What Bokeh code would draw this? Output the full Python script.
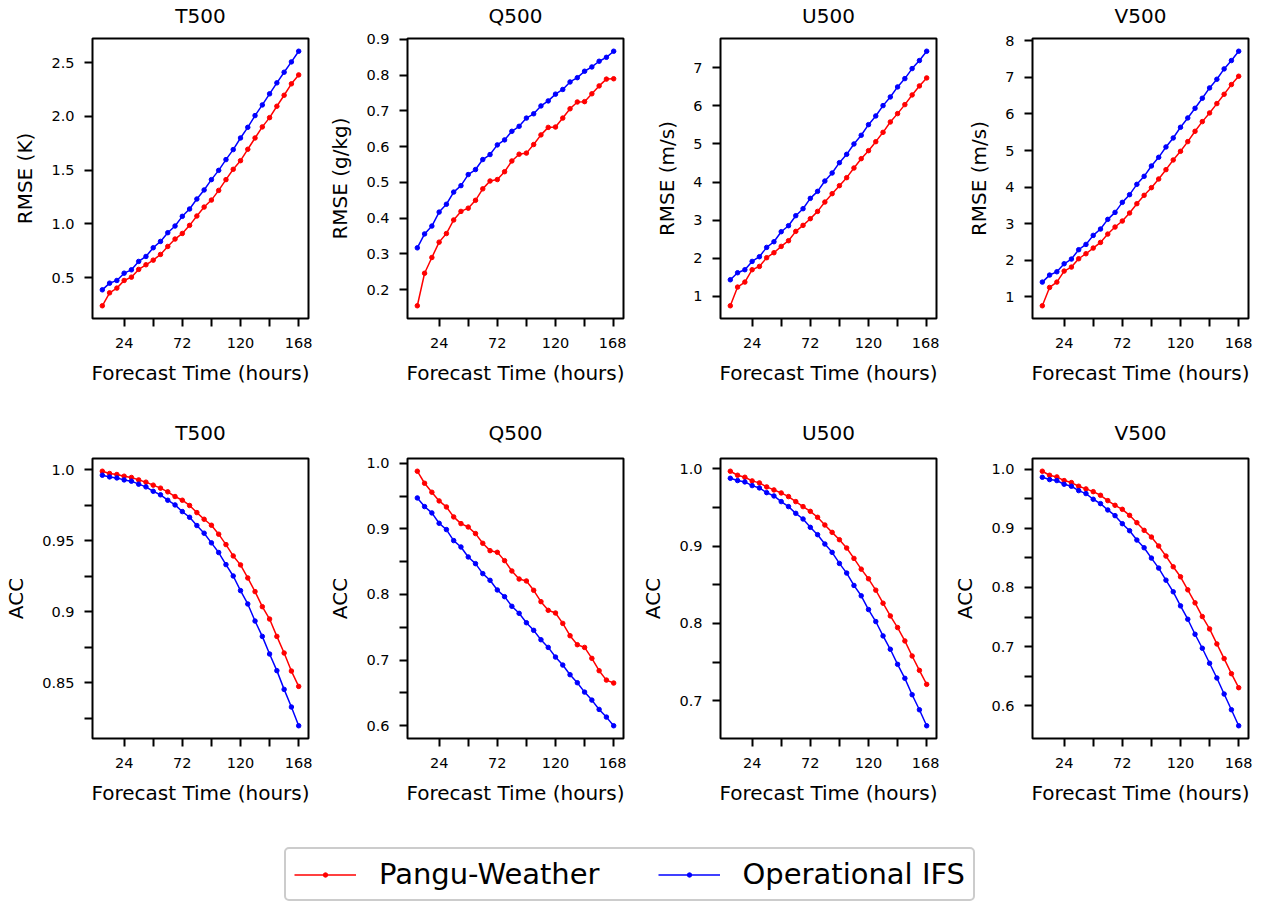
from bokeh.plotting import figure
from bokeh.layouts import column, row
from bokeh.models import FixedTicker, Range1d, Legend, LegendItem, LinearAxis
from bokeh.embed import file_html
from bokeh.resources import INLINE

# Lead times (hours)
hours = list(range(6, 169, 6))

# ---- RMSE ----
t500_rmse_pangu = [0.240, 0.360, 0.404, 0.475, 0.506, 0.578, 0.621, 0.664, 0.717, 0.791, 0.860, 0.912, 0.987, 1.074,
                   1.157, 1.222, 1.312, 1.412, 1.508, 1.588, 1.694, 1.799, 1.902, 1.988, 2.094, 2.196, 2.302, 2.385]
t500_rmse_ifs = [0.388, 0.450, 0.475, 0.543, 0.574, 0.652, 0.698, 0.779, 0.838, 0.919, 0.981, 1.071, 1.139, 1.232,
                 1.316, 1.412, 1.498, 1.598, 1.691, 1.799, 1.898, 2.007, 2.106, 2.209, 2.311, 2.410, 2.506, 2.605]
q500_rmse_pangu = [0.155, 0.246, 0.290, 0.333, 0.357, 0.395, 0.419, 0.428, 0.450, 0.482, 0.504, 0.508, 0.530, 0.560,
                   0.579, 0.582, 0.606, 0.633, 0.654, 0.655, 0.680, 0.706, 0.725, 0.726, 0.748, 0.770, 0.789, 0.790]
q500_rmse_ifs = [0.317, 0.356, 0.378, 0.417, 0.439, 0.473, 0.491, 0.522, 0.536, 0.564, 0.578, 0.605, 0.619, 0.643,
                 0.657, 0.680, 0.692, 0.714, 0.728, 0.747, 0.760, 0.781, 0.793, 0.811, 0.823, 0.839, 0.850, 0.867]
u500_rmse_pangu = [0.755, 1.245, 1.376, 1.700, 1.787, 2.015, 2.146, 2.312, 2.461, 2.706, 2.863, 3.038, 3.230, 3.475,
                   3.694, 3.904, 4.114, 4.367, 4.612, 4.822, 5.058, 5.303, 5.574, 5.793, 6.029, 6.283, 6.519, 6.729]
u500_rmse_ifs = [1.437, 1.621, 1.700, 1.918, 2.041, 2.286, 2.434, 2.697, 2.854, 3.117, 3.300, 3.571, 3.755, 4.026,
                 4.236, 4.507, 4.726, 4.997, 5.225, 5.504, 5.732, 6.003, 6.230, 6.493, 6.711, 6.974, 7.184, 7.429]
v500_rmse_pangu = [0.754, 1.255, 1.401, 1.703, 1.812, 2.040, 2.177, 2.332, 2.487, 2.715, 2.907, 3.071, 3.290, 3.546,
                   3.774, 3.984, 4.221, 4.476, 4.741, 4.978, 5.243, 5.526, 5.790, 6.027, 6.283, 6.538, 6.803, 7.031]
v500_rmse_ifs = [1.401, 1.593, 1.684, 1.903, 2.031, 2.287, 2.432, 2.679, 2.852, 3.117, 3.308, 3.582, 3.792, 4.075,
                 4.294, 4.577, 4.814, 5.097, 5.343, 5.635, 5.891, 6.155, 6.429, 6.712, 6.949, 7.232, 7.460, 7.715]

# ---- ACC ----
t500_acc_pangu = [0.9988, 0.9972, 0.9965, 0.9953, 0.9944, 0.9927, 0.9911, 0.9890, 0.9869, 0.9843, 0.9810, 0.9784,
                  0.9747, 0.9697, 0.9650, 0.9608, 0.9545, 0.9472, 0.9392, 0.9329, 0.9237, 0.9141, 0.9035, 0.8948,
                  0.8826, 0.8709, 0.8582, 0.8474]
t500_acc_ifs = [0.9960, 0.9948, 0.9941, 0.9927, 0.9918, 0.9897, 0.9878, 0.9847, 0.9822, 0.9784, 0.9751, 0.9704,
                0.9664, 0.9606, 0.9552, 0.9484, 0.9416, 0.9331, 0.9251, 0.9148, 0.9054, 0.8934, 0.8826, 0.8702,
                0.8585, 0.8453, 0.8329, 0.8197]
q500_acc_pangu = [0.9878, 0.9695, 0.9558, 0.9426, 0.9334, 0.9182, 0.9080, 0.9029, 0.8928, 0.8780, 0.8668, 0.8643,
                  0.8516, 0.8358, 0.8236, 0.8206, 0.8064, 0.7891, 0.7759, 0.7718, 0.7560, 0.7372, 0.7235, 0.7194,
                  0.7027, 0.6839, 0.6696, 0.6651]
q500_acc_ifs = [0.9471, 0.9339, 0.9243, 0.9085, 0.8989, 0.8821, 0.8724, 0.8572, 0.8470, 0.8318, 0.8216, 0.8069,
                0.7967, 0.7820, 0.7713, 0.7570, 0.7454, 0.7311, 0.7194, 0.7047, 0.6925, 0.6778, 0.6656, 0.6513,
                0.6391, 0.6249, 0.6132, 0.6000]
u500_acc_pangu = [0.9970, 0.9918, 0.9892, 0.9845, 0.9819, 0.9767, 0.9728, 0.9689, 0.9642, 0.9577, 0.9512, 0.9451,
                  0.9374, 0.9274, 0.9179, 0.9084, 0.8976, 0.8842, 0.8703, 0.8578, 0.8431, 0.8262, 0.8098, 0.7947,
                  0.7774, 0.7579, 0.7393, 0.7212]
u500_acc_ifs = [0.9879, 0.9849, 0.9832, 0.9784, 0.9754, 0.9693, 0.9650, 0.9577, 0.9512, 0.9425, 0.9352, 0.9244,
                0.9149, 0.9028, 0.8920, 0.8777, 0.8652, 0.8492, 0.8358, 0.8180, 0.8025, 0.7839, 0.7666, 0.7471,
                0.7290, 0.7078, 0.6883, 0.6676]
v500_acc_pangu = [0.9966, 0.9898, 0.9870, 0.9808, 0.9774, 0.9712, 0.9667, 0.9621, 0.9559, 0.9469, 0.9390, 0.9322,
                  0.9220, 0.9096, 0.8966, 0.8853, 0.8701, 0.8531, 0.8350, 0.8181, 0.7960, 0.7740, 0.7508, 0.7299,
                  0.7045, 0.6797, 0.6542, 0.6305]
v500_acc_ifs = [0.9864, 0.9825, 0.9808, 0.9746, 0.9712, 0.9638, 0.9588, 0.9492, 0.9418, 0.9311, 0.9215, 0.9079,
                0.8960, 0.8802, 0.8672, 0.8497, 0.8328, 0.8124, 0.7927, 0.7689, 0.7463, 0.7209, 0.6972, 0.6718,
                0.6469, 0.6198, 0.5932, 0.5661]

# ---- panel titles, axis labels and ticks ----
variables = ["T500", "Q500", "U500", "V500"]
rmse_labels = ["RMSE (K)", "RMSE (g/kg)", "RMSE (m/s)", "RMSE (m/s)"]
acc_label = "ACC"
x_label = "Forecast Time (hours)"
x_ticks = [24, 72, 120, 168]
x_tick_labels = ["24", "72", "120", "168"]
x_minor_ticks = [48, 96, 144]

rmse_yticks = [
    [0.5, 1.0, 1.5, 2.0, 2.5],
    [0.2, 0.3, 0.4, 0.5, 0.6, 0.7, 0.8, 0.9],
    [1, 2, 3, 4, 5, 6, 7],
    [1, 2, 3, 4, 5, 6, 7, 8],
]
rmse_ytick_labels = [
    ["0.5", "1.0", "1.5", "2.0", "2.5"],
    ["0.2", "0.3", "0.4", "0.5", "0.6", "0.7", "0.8", "0.9"],
    ["1", "2", "3", "4", "5", "6", "7"],
    ["1", "2", "3", "4", "5", "6", "7", "8"],
]
acc_yticks = [
    [0.85, 0.9, 0.95, 1.0],
    [0.6, 0.7, 0.8, 0.9, 1.0],
    [0.7, 0.8, 0.9, 1.0],
    [0.6, 0.7, 0.8, 0.9, 1.0],
]
acc_ytick_labels = [
    ["0.85", "0.9", "0.95", "1.0"],
    ["0.6", "0.7", "0.8", "0.9", "1.0"],
    ["0.7", "0.8", "0.9", "1.0"],
    ["0.6", "0.7", "0.8", "0.9", "1.0"],
]
acc_minor_yticks = [
    [0.825, 0.875, 0.925, 0.975],
    [0.65, 0.75, 0.85, 0.95],
    [0.75, 0.85, 0.95],
    [0.65, 0.75, 0.85, 0.95],
]

series_names = ["Pangu-Weather", "Operational IFS"]
RED = "#ff0000"
BLUE = "#0000ff"
FONT = "DejaVu Sans"

rmse_pangu = [t500_rmse_pangu, q500_rmse_pangu, u500_rmse_pangu, v500_rmse_pangu]
rmse_ifs = [t500_rmse_ifs, q500_rmse_ifs, u500_rmse_ifs, v500_rmse_ifs]
acc_pangu = [t500_acc_pangu, q500_acc_pangu, u500_acc_pangu, v500_acc_pangu]
acc_ifs = [t500_acc_ifs, q500_acc_ifs, u500_acc_ifs, v500_acc_ifs]

# figure geometry per column: (figure width, left border, right border)
FRAME_H = 280
columns_geom = [(313, 92, 5), (313, 94, 3), (313, 94, 3), (331, 93, 22)]
LINE_W = 1.5
DOT = 4.5


def padded(lo, hi, frac=0.05):
    span = hi - lo
    return lo - frac * span, hi + frac * span


def style_label(ax, label, label_standoff):
    ax.axis_label = label
    ax.axis_label_text_font = FONT
    ax.axis_label_text_font_size = "20px"
    ax.axis_label_text_font_style = "normal"
    ax.axis_label_text_color = "black"
    ax.axis_label_standoff = label_standoff


def style_axis(ax, label, ticks, labels, minor, tick_standoff, label_standoff):
    ax.ticker = FixedTicker(ticks=ticks, minor_ticks=minor)
    ax.major_label_overrides = {t: s for t, s in zip(ticks, labels)}
    style_label(ax, label, label_standoff)
    ax.major_label_text_font = FONT
    ax.major_label_text_font_size = "14.5px"
    ax.major_label_text_color = "black"
    ax.major_label_standoff = tick_standoff
    ax.axis_line_color = None
    ax.major_tick_in = 0
    ax.major_tick_out = 8
    ax.minor_tick_in = 0
    ax.minor_tick_out = 8
    ax.major_tick_line_color = "black"
    ax.minor_tick_line_color = "black"
    ax.major_tick_line_width = 2
    ax.minor_tick_line_width = 2


def make_panel(col, title, ylabel, pangu, ifs, yticks, ylabels, yminor, top, bottom, title_gap):
    width, left, right = columns_geom[col]
    lo, hi = padded(min(min(pangu), min(ifs)), max(max(pangu), max(ifs)))
    xlo, xhi = padded(min(hours), max(hours))
    p = figure(width=width, height=top + FRAME_H + bottom,
               x_range=Range1d(xlo, xhi), y_range=Range1d(lo, hi),
               toolbar_location=None, output_backend="svg",
               min_border_left=left, min_border_right=right,
               min_border_top=top, min_border_bottom=bottom)
    p.outline_line_color = "black"
    p.outline_line_width = 2
    p.outline_line_alpha = 1.0
    p.xgrid.visible = False
    p.ygrid.visible = False
    style_axis(p.xaxis[0], x_label, x_ticks, x_tick_labels, x_minor_ticks, 11, 10)
    style_axis(p.yaxis[0], ylabel, yticks, ylabels, yminor, 10, 11)

    # panel title: a tick-less axis along the top edge carrying the name
    title_axis = LinearAxis(ticker=FixedTicker(ticks=[]), axis_line_color=None,
                            major_tick_out=0, major_tick_in=0, minor_tick_out=0, minor_tick_in=0,
                            major_label_standoff=0)
    style_label(title_axis, title, title_gap)
    p.add_layout(title_axis, "above")

    p.line(hours, pangu, line_color=RED, line_width=LINE_W)
    p.scatter(hours, pangu, size=DOT, fill_color=RED, line_color=RED)
    p.line(hours, ifs, line_color=BLUE, line_width=LINE_W)
    p.scatter(hours, ifs, size=DOT, fill_color=BLUE, line_color=BLUE)
    return p


top_row = [make_panel(i, variables[i], rmse_labels[i], rmse_pangu[i], rmse_ifs[i],
                      rmse_yticks[i], rmse_ytick_labels[i], [], 38, 92, 11) for i in range(4)]
bottom_row = [make_panel(i, variables[i], acc_label, acc_pangu[i], acc_ifs[i],
                         acc_yticks[i], acc_ytick_labels[i], acc_minor_yticks[i], 48, 92, 14) for i in range(4)]

# Shared legend strip. Its renderers carry one series each but the view
# window sits away from the data, so only the legend swatches show.
lf = figure(width=1270, height=73, toolbar_location=None, output_backend="svg",
            x_axis_type=None, y_axis_type=None,
            x_range=Range1d(-2, -1), y_range=Range1d(-2, -1),
            min_border_left=0, min_border_right=0, min_border_top=0, min_border_bottom=0)
lf.outline_line_color = None
lf.xgrid.visible = False
lf.ygrid.visible = False
r_line = lf.line(hours, t500_acc_pangu, line_color=RED, line_width=LINE_W)
r_dot = lf.scatter(hours, t500_acc_pangu, size=DOT, fill_color=RED, line_color=RED)
b_line = lf.line(hours, t500_acc_ifs, line_color=BLUE, line_width=LINE_W)
b_dot = lf.scatter(hours, t500_acc_ifs, size=DOT, fill_color=BLUE, line_color=BLUE)
legend = Legend(items=[LegendItem(label=series_names[0], renderers=[r_line, r_dot]),
                       LegendItem(label=series_names[1], renderers=[b_line, b_dot])],
                orientation="horizontal", location=(284, 2),
                label_text_font=FONT, label_text_font_size="29px", label_text_color="black",
                glyph_width=62, glyph_height=11, label_standoff=23, spacing=58,
                padding=8, margin=0,
                border_line_color="#cccccc", border_line_width=2, border_line_alpha=1.0,
                background_fill_color="white", background_fill_alpha=1.0)
if "border_radius" in Legend.properties():
    legend.border_radius = 5
lf.add_layout(legend, "center")

layout = column(row(*top_row), row(*bottom_row), lf)

with open("out.html", "w") as f:
    f.write(file_html(layout, INLINE))
